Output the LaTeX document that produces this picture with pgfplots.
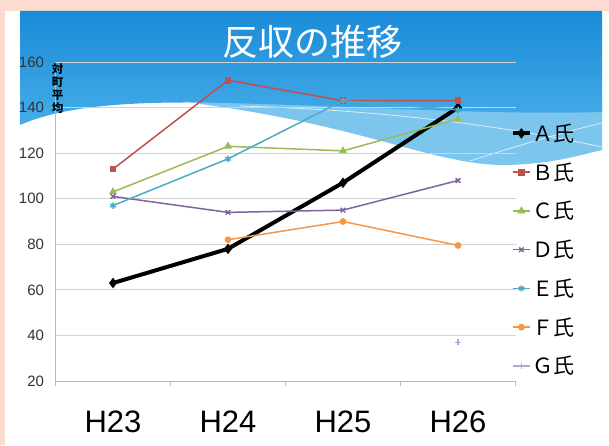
\documentclass[border=0pt]{standalone}
\usepackage{pgfplots}
\pgfplotsset{compat=1.18}
\usepackage{fontspec}
\setmainfont{Liberation Sans}
\newfontfamily\jp{Noto Sans CJK JP}
\definecolor{pinkbg}{HTML}{FCDCD0}
\definecolor{blueTop}{HTML}{1A8BD8}
\definecolor{blueBot}{HTML}{45ACE8}
\definecolor{blueLight}{HTML}{7CC6EE}
\definecolor{cB}{HTML}{C0504D}
\definecolor{cC}{HTML}{9BBB59}
\definecolor{cD}{HTML}{8064A2}
\definecolor{cE}{HTML}{4BACC6}
\definecolor{cF}{HTML}{F79646}
\definecolor{cG}{HTML}{A3ACD2}
\begin{document}
\begin{tikzpicture}[x=1pt,y=1pt]
\useasboundingbox (0,0) rectangle (609,445);
\fill[pinkbg] (0,0) rectangle (609,445);
\fill[white] (5,0) rectangle (609,434);
% light band
\fill[blueLight] (200,345) -- (602,345) -- (602,295) .. controls (580,290) and (550,280) .. (500,280) .. controls (430,282) and (360,320) .. (200,341) -- cycle;
% dark band
\shade[top color=blueTop, bottom color=blueBot] (20,434) -- (602,434) -- (602,333) .. controls (500,330) and (400,337) .. (260,341) .. controls (150,345) and (70,342) .. (20,320) -- cycle;
\draw[white, opacity=0.7, line width=0.8pt] (240,339) .. controls (380,335) and (500,320) .. (602,298);
\draw[white, opacity=0.7, line width=0.8pt] (470,284) .. controls (520,300) and (560,312) .. (602,322);
\node[text=white, font=\jp\fontsize{36}{40}\selectfont] at (312,403) {反収の推移};
\begin{axis}[
  at={(55.5pt,64pt)}, anchor=south west,
  width=460pt, height=319pt, scale only axis,
  xmin=-0.5, xmax=3.5, ymin=20, ymax=160,
  ytick={20,40,...,160},
  xtick={0,1,2,3}, xticklabels={H23,H24,H25,H26},
  minor xtick={-0.5,0.5,1.5,2.5,3.5},
  axis x line*=bottom, axis y line*=left,
  axis line style={gray!55, line width=0.6pt},
  ymajorgrids, grid style={gray!35, line width=0.8pt},
  minor tick length=5pt, major tick length=0pt,
  tick style={gray!55, line width=0.6pt},
  tick align=outside,
  /pgf/number format/assume math mode=true,
  yticklabel style={font=\fontsize{15}{18}\selectfont, text=black!80, xshift=-8pt},
  xticklabel style={font=\fontsize{31}{35}\selectfont, text=black, yshift=-26pt},
  legend style={at={(0.983,0.816)}, anchor=north west, draw=none, fill=none,
    font=\jp\fontsize{21}{24}\selectfont, row sep=17.7pt,
    nodes={inner sep=1pt}},
  legend cell align=left,
  every axis plot/.append style={line width=1.5pt, mark options={solid}},
]
\addplot[black, line width=4pt, mark=diamond*, mark size=2pt] coordinates {(0,63) (1,78) (2,107) (3,140)};
\addlegendentry{Ａ氏}
\addplot[cB, mark=square*, mark size=2.6pt] coordinates {(0,113) (1,152) (2,143) (3,143)};
\addlegendentry{Ｂ氏}
\addplot[cC, mark=triangle*, mark size=3.2pt] coordinates {(0,103) (1,123) (2,121) (3,135)};
\addlegendentry{Ｃ氏}
\addplot[cD, mark=x, mark size=3.2pt] coordinates {(0,101) (1,94) (2,95) (3,108)};
\addlegendentry{Ｄ氏}
\addplot[cE, mark=asterisk, mark size=3.2pt] coordinates {(0,97) (1,117.5) (2,143) (3,139)};
\addlegendentry{Ｅ氏}
\addplot[cF, mark=*, mark size=2.6pt] coordinates {(1,82) (2,90) (3,79.5)};
\addlegendentry{Ｆ氏}
\addplot[cG, mark=+, mark size=3.2pt] coordinates {(3,37)};
\addlegendentry{Ｇ氏}
\end{axis}
\node[font=\jp\fontsize{11.5}{13.2}\selectfont\bfseries, align=center, anchor=north] at (57.5,385) {対\\町\\平\\均};
\end{tikzpicture}
\end{document}
